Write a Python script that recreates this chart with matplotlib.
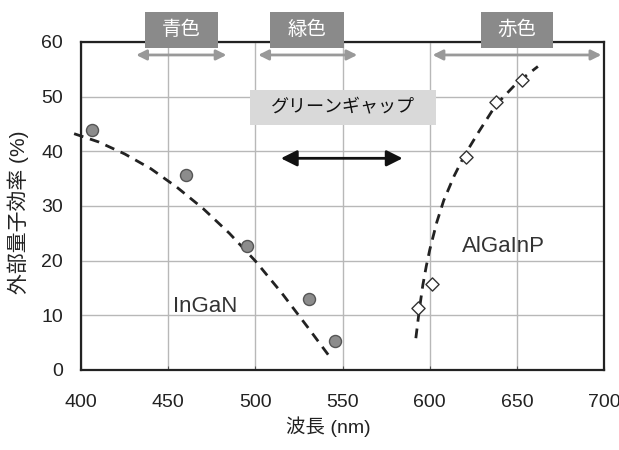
import matplotlib.pyplot as plt
from matplotlib.patches import Rectangle

plt.rcParams['font.family'] = ['Liberation Sans', 'Noto Sans CJK JP', 'DejaVu Sans']

# measured points
ingan_x = [406, 460, 495, 530.5, 545.5]
ingan_y = [43.8, 35.7, 22.7, 12.9, 5.3]
algainp_x = [593, 601.5, 620.5, 638, 653]
algainp_y = [11.4, 15.7, 39.0, 49.0, 53.0]

# dashed trend lines
ingan_fit_x = [396, 410, 425, 440, 455, 470, 485, 500, 515, 530, 544]
ingan_fit_y = [43.2, 41.7, 39.5, 36.8, 33.4, 29.5, 25.0, 19.9, 14.1, 7.8, 1.8]
algainp_fit_x = [592, 594, 596, 598, 600, 604, 608, 614, 620, 628, 638, 650, 662]
algainp_fit_y = [5.8, 11.0, 15.5, 19.0, 22.0, 27.0, 31.0, 35.5, 39.3, 43.5, 48.5, 52.5, 55.5]

# colour bands at the top
band_names = ['青色', '緑色', '赤色']
band_ranges = [(430, 485), (500, 560), (600, 700)]
band_boxes = [(436.8, 478.7), (508.6, 550.6), (629.3, 670.7)]

fig = plt.figure(figsize=(6.19, 4.5), dpi=100)
ax = fig.add_axes([0.131, 0.178, 0.845, 0.729])

ax.set_xlim(400, 700)
ax.set_ylim(0, 60)
ax.set_xticks(range(400, 701, 50))
ax.set_yticks(range(0, 61, 10))
ax.grid(True, color='#b8b8b8', linewidth=1.0)
ax.set_axisbelow(True)
ax.tick_params(axis='y', labelsize=14, colors='#222222', length=0, pad=13)
ax.tick_params(axis='x', labelsize=14, labelcolor='#222222', direction='in',
               length=3, color='#555555', pad=17)
for s in ax.spines.values():
    s.set_linewidth(1.6)
    s.set_color('#222222')

ax.plot(ingan_fit_x, ingan_fit_y, '--', color='#222222', lw=2.0, dashes=(3.5, 2.5), clip_on=False)
ax.plot(algainp_fit_x, algainp_fit_y, '--', color='#222222', lw=2.0, dashes=(3.5, 2.5))
ax.scatter(ingan_x, ingan_y, s=75, color='#8c8c8c', edgecolor='#555555', linewidth=1, zorder=3)
ax.scatter(algainp_x, algainp_y, s=45, marker='D', color='white', edgecolor='#333333', linewidth=1, zorder=3)

ax.text(471, 11.6, 'InGaN', fontsize=16, ha='center', va='center', color='#333333')
ax.text(642, 22.5, 'AlGaInP', fontsize=16, ha='center', va='center', color='#333333')

# green gap label and arrow
ax.add_patch(Rectangle((497, 44.8), 106.3, 6.4, facecolor='#d9d9d9', edgecolor='none', zorder=4))
ax.text(550, 48.0, 'グリーンギャップ', fontsize=13, ha='center', va='center', color='#111111', zorder=5)
ax.annotate('', xy=(513, 38.7), xytext=(586, 38.7),
            arrowprops=dict(arrowstyle='<|-|>', color='#111111', lw=2, mutation_scale=24))

# colour bands
for name, (x0, x1), (b0, b1) in zip(band_names, band_ranges, band_boxes):
    ax.annotate('', xy=(x0, 57.6), xytext=(x1, 57.6),
                arrowprops=dict(arrowstyle='<|-|>', color='#999999', lw=2, mutation_scale=15))
    ax.add_patch(Rectangle((b0, 58.9), b1 - b0, 6.6, facecolor='#8a8a8a', edgecolor='none',
                           clip_on=False, zorder=6))
    ax.text((b0 + b1) / 2, 62.2, name, fontsize=14, ha='center', va='center', color='white',
            clip_on=False, zorder=7)

ax.set_xlabel('波長 (nm)', fontsize=14, color='#222222')
ax.set_ylabel('外部量子効率 (%)', fontsize=15, color='#222222')
ax.xaxis.set_label_coords(0.472, -0.143)
ax.yaxis.set_label_coords(-0.099, 0.482)

fig.savefig('out.png', dpi=100)
